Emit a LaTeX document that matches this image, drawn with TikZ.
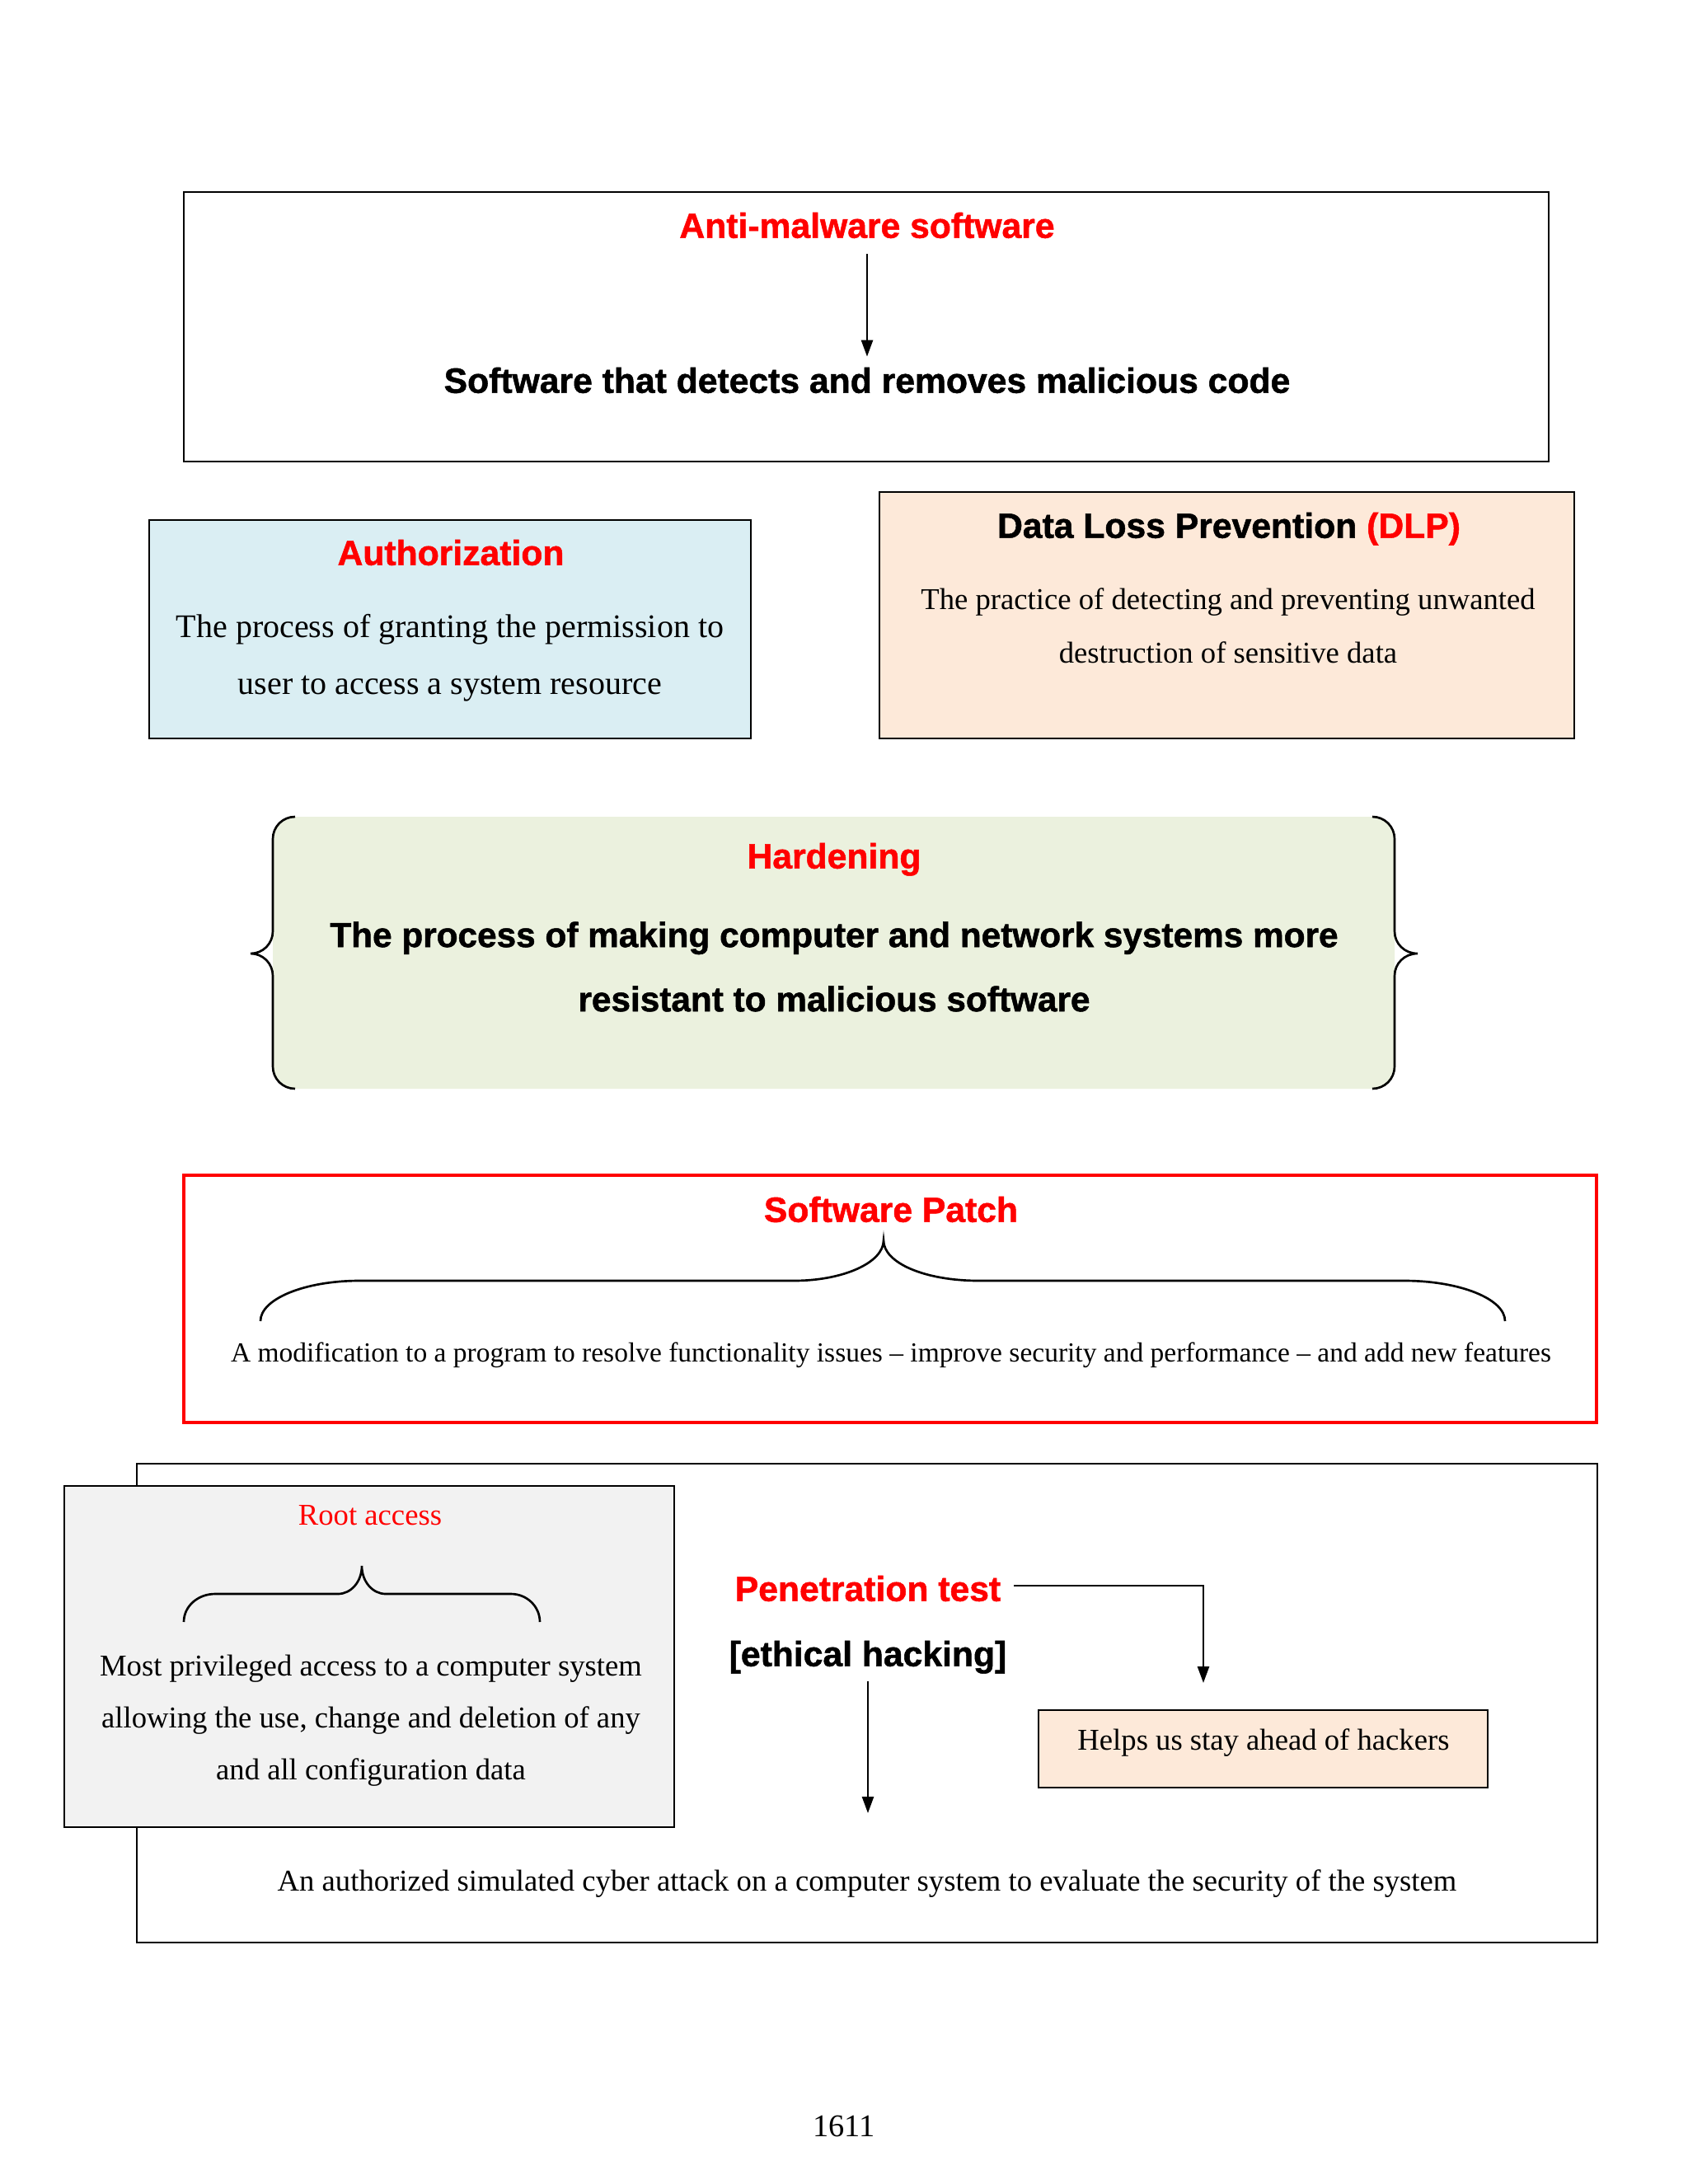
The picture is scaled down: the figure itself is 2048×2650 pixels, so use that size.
\documentclass[tikz,border=0pt]{standalone}
\usepackage{fontspec}
\setmainfont{Liberation Serif}
\setsansfont{Liberation Sans}[BoldFeatures={FakeBold=1.2}]
\usetikzlibrary{arrows.meta}
\definecolor{authblue}{HTML}{DAEEF3}
\definecolor{dlppeach}{HTML}{FDE9D9}
\definecolor{hardgreen}{HTML}{EBF1DE}
\definecolor{rootgrey}{HTML}{F2F2F2}
\definecolor{pured}{HTML}{FF0000}
\begin{document}
\begin{tikzpicture}[x=0.3pt,y=-0.3pt,
  boxline/.style={draw=black,line width=0.8pt},
  ttl/.style={font=\sffamily\bfseries\fontsize{12.8}{15}\selectfont,text=pured,inner sep=0pt,text height=0.72em,text depth=0.2em},
  bsans/.style={font=\sffamily\bfseries\fontsize{12.8}{15}\selectfont,inner sep=0pt,text height=0.72em,text depth=0.2em},
  body/.style={align=center,inner sep=0pt},
  arr/.style={line width=0.75pt,-{Triangle[length=6pt,width=4.2pt]}},
  bracepath/.style={line width=0.8pt}]
\fill[white] (0,0) rectangle (2048,2650);

% ---------- Anti-malware ----------
\draw[boxline] (223,233) rectangle (1879,560);
\node[ttl] (am) at (1052,280) {Anti-malware software};
\node[bsans] (sw) at (1052,468) {Software that detects and removes malicious code};
\draw[arr,shorten <=3.7pt,shorten >=5.8pt] (am.south) -- (sw.north);

% ---------- Authorization ----------
\path[fill=authblue,boxline] (181,631) rectangle (911,896);
\node[ttl] (auth) at (547,677) {Authorization};
\node[body,font=\fontsize{12}{20.7}\selectfont] (authtxt) at (546,798)
  {The process of granting the permission to\\user to access a system resource};

% ---------- DLP ----------
\path[fill=dlppeach,boxline] (1067,597) rectangle (1910,896);
\node[bsans] (dlp) at (1491,644) {Data Loss Prevention \textcolor{pured}{(DLP)}};
\node[body,font=\fontsize{11}{19.5}\selectfont] (dlptxt) at (1490,759)
  {The practice of detecting and preventing unwanted\\destruction of sensitive data};

% ---------- Hardening ----------
\fill[hardgreen] (358,991) -- (1665,991) .. controls (1680,991) and (1692,1003) .. (1692,1018)
  -- (1692,1294) .. controls (1692,1309) and (1680,1321) .. (1665,1321)
  -- (358,1321) .. controls (343,1321) and (331,1309) .. (331,1294)
  -- (331,1018) .. controls (331,1003) and (343,991) .. (358,991) -- cycle;
\draw[bracepath] (358,991) .. controls (343,991) and (331,1003) .. (331,1018) -- (331,1130)
  .. controls (331,1145) and (319,1157) .. (304,1157)
  .. controls (319,1157) and (331,1169) .. (331,1184) -- (331,1294)
  .. controls (331,1309) and (343,1321) .. (358,1321);
\draw[bracepath] (1665,991) .. controls (1680,991) and (1692,1003) .. (1692,1018) -- (1692,1130)
  .. controls (1692,1145) and (1704,1157) .. (1720,1157)
  .. controls (1704,1157) and (1692,1169) .. (1692,1184) -- (1692,1294)
  .. controls (1692,1309) and (1680,1321) .. (1665,1321);
\node[ttl] (hard) at (1012,1045) {Hardening};
\node[body,font=\sffamily\bfseries\fontsize{12.7}{23.4}\selectfont] (hardtxt) at (1012,1173)
  {The process of making computer and network systems more\\resistant to malicious software};

% ---------- Software Patch ----------
\draw[draw=pured,line width=1.3pt] (223,1426) rectangle (1937,1726);
\node[ttl] (patch) at (1081,1474) {Software Patch};
\draw[bracepath] (316,1603) .. controls (316,1576) and (370,1554) .. (436,1554) -- (963,1554)
  .. controls (1023,1554) and (1072,1532) .. (1072,1505)
  .. controls (1072,1532) and (1121,1554) .. (1188,1554) -- (1704,1554)
  .. controls (1771,1554) and (1826,1576) .. (1826,1603);
\node[body,font=\fontsize{10.05}{12}\selectfont] (patchtxt) at (1081,1644)
  {A modification to a program to resolve functionality issues – improve security and performance – and add new features};

% ---------- Penetration test / Root access ----------
\draw[boxline] (166,1776) rectangle (1938,2357);
\path[fill=rootgrey,boxline] (78,1803) rectangle (818,2217);
\node[inner sep=0pt,text=pured,font=\fontsize{11}{13}\selectfont] (root) at (449,1839) {Root access};
\draw[bracepath] (223,1968) .. controls (223,1949) and (240,1934) .. (261,1934) -- (410,1934)
  .. controls (426,1934) and (439,1919) .. (439,1900)
  .. controls (439,1919) and (452,1934) .. (468,1934) -- (620,1934)
  .. controls (639,1934) and (655,1949) .. (655,1968);
\node[body,font=\fontsize{11}{18.9}\selectfont] (roottxt) at (450,2088)
  {Most privileged access to a computer system\\allowing the use, change and deletion of any\\and all configuration data};

\node[ttl] (pen) at (1053,1934) {Penetration test};
\node[bsans] (eth) at (1053,2013) {[ethical hacking]};
\coordinate (pentip) at (1460,2042);
\coordinate (ethtip) at (1052,2200);
\draw[arr,shorten <=4.5pt] ([yshift=3pt]pen.east) -| (pentip);
\draw[arr,shorten <=3.2pt] (eth.south) -- (eth.south |- ethtip);

\path[fill=dlppeach,boxline] (1260,2075) rectangle (1805,2169);
\node[inner sep=0pt,font=\fontsize{11}{13}\selectfont] (helps) at (1533,2115) {Helps us stay ahead of hackers};

\node[inner sep=0pt,font=\fontsize{11}{13}\selectfont] (pentxt) at (1052,2286)
  {An authorized simulated cyber attack on a computer system to evaluate the security of the system};

\node[inner sep=0pt,font=\fontsize{11.5}{13}\selectfont] (pageno) at (1024,2580) {1611};
\end{tikzpicture}
\end{document}
